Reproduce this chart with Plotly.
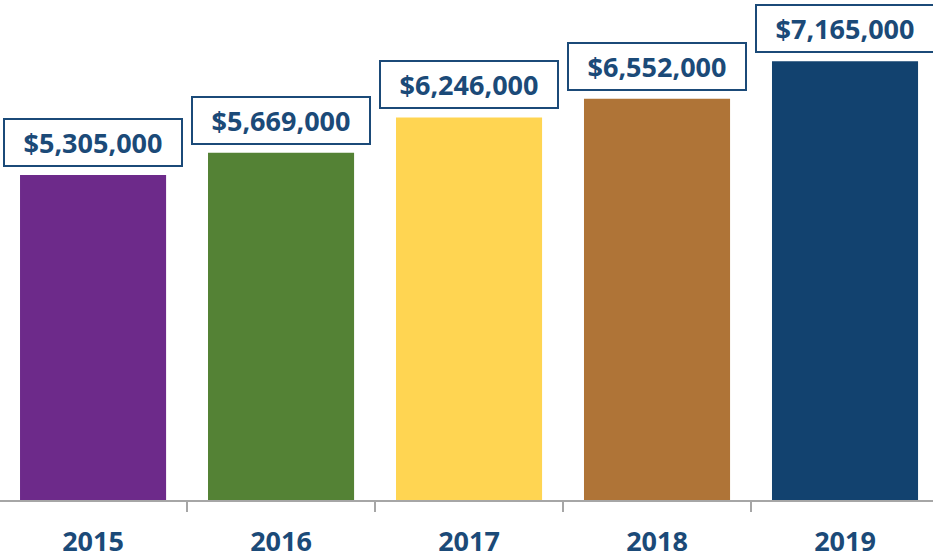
import plotly.graph_objects as go

# Annual totals by year
years = ["2015", "2016", "2017", "2018", "2019"]
totals = [5305000, 5669000, 6246000, 6552000, 7165000]
bar_colors = ["#6D2A8A", "#548235", "#FFD552", "#AF7437", "#12426F"]

label_color = "#1B4A78"
font_family = "Open Sans, Arial, sans-serif"

fig = go.Figure(
    go.Bar(
        x=years,
        y=totals,
        marker=dict(color=bar_colors, line=dict(width=0)),
        hoverinfo="skip",
    )
)

# Boxed value labels above each bar (x given as category index)
for i, val in enumerate(totals):
    fig.add_annotation(
        x=i,
        y=val,
        xref="x",
        yref="y",
        text=f"<b>${val:,.0f}</b>",
        showarrow=False,
        yanchor="bottom",
        yshift=8,
        font=dict(family=font_family, size=27, color=label_color),
        bgcolor="white",
        bordercolor=label_color,
        borderwidth=2,
        borderpad=2,
        width=172,
        height=41,
        align="center",
        valign="middle",
    )

fig.update_layout(
    width=933,
    height=558,
    margin=dict(l=0, r=0, t=10, b=58),
    paper_bgcolor="white",
    plot_bgcolor="white",
    bargap=0.223,
    showlegend=False,
    xaxis=dict(
        type="category",
        range=[-0.495, 4.468],
        showline=True,
        linecolor="#A6A6A6",
        linewidth=2,
        ticks="outside",
        tickson="boundaries",
        ticklen=10,
        tickcolor="#A6A6A6",
        tickwidth=2,
        ticklabelstandoff=17,
        tickfont=dict(family=font_family, size=27, color=label_color, weight="bold"),
        showgrid=False,
        zeroline=False,
    ),
    yaxis=dict(
        range=[0, 8000000],
        visible=False,
        showgrid=False,
        zeroline=False,
    ),
)

fig.write_html("out.html")
